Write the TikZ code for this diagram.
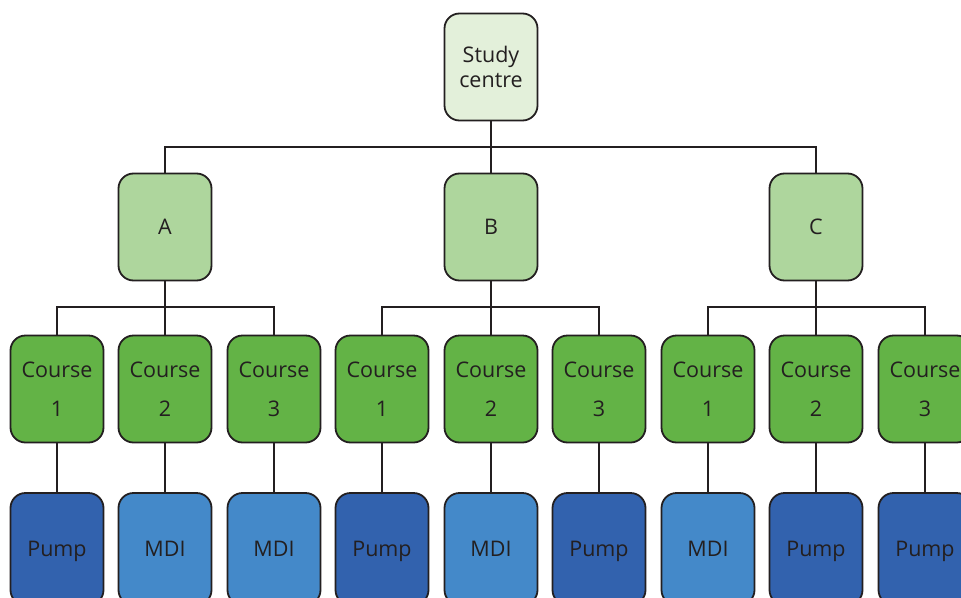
\documentclass[tikz,border=0pt]{standalone}
\usepackage{fontspec}
\setmainfont{Open Sans}
\definecolor{txt}{HTML}{231F20}
\definecolor{scfill}{HTML}{E3F0DA}
\definecolor{grpfill}{HTML}{AED69D}
\definecolor{crsfill}{HTML}{63B346}
\definecolor{pumpfill}{HTML}{3262AE}
\definecolor{mdifill}{HTML}{4489C9}
\tikzset{
  box/.style={draw=txt, line width=1.8pt, rounded corners=15pt, minimum width=93pt, minimum height=107pt, inner sep=0pt, text=txt, align=center},
  topbox/.style={box, fill=scfill, font=\fontsize{21.5}{25}\selectfont},
  grpbox/.style={box, fill=grpfill, font=\fontsize{21.5}{25}\selectfont, text height=15pt, text depth=0pt},
  crsbox/.style={box, fill=crsfill, font=\fontsize{21.5}{39}\selectfont},
  pumpbox/.style={box, fill=pumpfill, minimum height=112pt, font=\fontsize{21.5}{25}\selectfont, text height=15pt, text depth=0pt},
  mdibox/.style={box, fill=mdifill, minimum height=112pt, font=\fontsize{21.5}{25}\selectfont, text height=15pt, text depth=0pt},
  conn/.style={draw=txt, line width=1.5pt}
}
\begin{document}
\begin{tikzpicture}[x=1pt,y=-1pt]
\useasboundingbox (0,0) rectangle (961,597);
\clip (0,0) rectangle (961,597);
\fill[white] (0,0) rectangle (961,597);
\coordinate (bus0) at (491,147);
\coordinate (bus1) at (0,307);
\node[topbox] (sc) at (491,67) {Study\\centre};
\node[grpbox] (A) at (165,227) {A};
\node[grpbox] (B) at (491,227) {B};
\node[grpbox] (C) at (816,227) {C};
\foreach \i/\x/\n in {0/57/1,1/165/2,2/274/3,3/382/1,4/491/2,5/599/3,6/708/1,7/816/2,8/925/3}{
  \node[crsbox] (c\i) at (\x,389) {Course\\\n};
}
\foreach \i/\x/\s/\t in {0/57/pumpbox/Pump,1/165/mdibox/MDI,2/274/mdibox/MDI,3/382/pumpbox/Pump,4/491/mdibox/MDI,5/599/pumpbox/Pump,6/708/mdibox/MDI,7/816/pumpbox/Pump,8/925/pumpbox/Pump}{
  \node[\s] (p\i) at (\x,549) {\t};
}
\draw[conn] (sc.south) -- (bus0);
\draw[conn] (A.north) -- (A.north |- bus0) -- (C.north |- bus0) -- (C.north);
\draw[conn] (B.north) -- (B.north |- bus0);
\foreach \g/\a/\b/\m in {A/c0/c2/c1,B/c3/c5/c4,C/c6/c8/c7}{
  \draw[conn] (\g.south) -- (\g.south |- bus1);
  \draw[conn] (\a.north) -- (\a.north |- bus1) -- (\b.north |- bus1) -- (\b.north);
  \draw[conn] (\m.north) -- (\m.north |- bus1);
}
\foreach \i in {0,...,8}{
  \draw[conn] (c\i.south) -- (p\i.north);
}
\end{tikzpicture}
\end{document}
